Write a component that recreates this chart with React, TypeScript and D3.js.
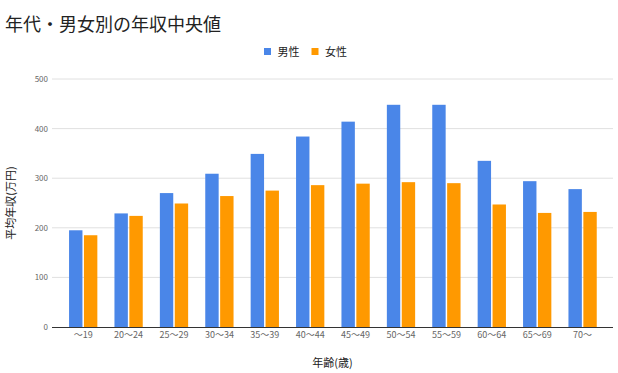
import React, { useEffect, useRef } from "react";
import * as d3 from "d3";

// Age brackets and median annual income (万円).
const ageGroups = ["〜19", "20〜24", "25〜29", "30〜34", "35〜39", "40〜44", "45〜49", "50〜54", "55〜59", "60〜64", "65〜69", "70〜"];
const maleValues = [195, 229, 270, 309, 349, 384, 414, 448, 448, 335, 294, 278];
const femaleValues = [185, 224, 249, 264, 275, 286, 289, 292, 290, 247, 230, 232];
const seriesNames = ["男性", "女性"];
const yTicks = [0, 100, 200, 300, 400, 500];

const colors = ["#4a86e8", "#ff9900"];
const font = "'Noto Sans CJK JP', 'Noto Sans', sans-serif";

const App = () => {
  const chartRef = useRef<SVGSVGElement>(null);

  useEffect(() => {
    const svgWidth = 618;
    const svgHeight = 373;
    const gridLeft = 52;
    const gridRight = 613;

    const svg = d3.select(chartRef.current)
      .attr("width", svgWidth)
      .attr("height", svgHeight);

    svg.selectAll("*").remove();

    const x = d3.scaleBand<string>()
      .domain(ageGroups)
      .range([60.5, 605.3])
      .paddingInner(0.377)
      .paddingOuter(0.1885);

    const xInner = d3.scaleBand<string>()
      .domain(seriesNames)
      .range([0, x.bandwidth()])
      .paddingInner(0.1);

    const y = d3.scaleLinear()
      .domain([0, 500])
      .range([327, 79]);

    // Title
    svg.append("text")
      .attr("x", 5)
      .attr("y", 31)
      .attr("font-family", font)
      .attr("font-size", 18)
      .attr("font-weight", 400)
      .attr("fill", "#222")
      .text("年代・男女別の年収中央値");

    // Legend
    const legend = svg.append("g").attr("transform", "translate(264, 0)");
    seriesNames.forEach((name, i) => {
      const g = legend.append("g").attr("transform", `translate(${i * 47.5}, 0)`);
      g.append("rect")
        .attr("x", 0)
        .attr("y", 48)
        .attr("width", 7)
        .attr("height", 7)
        .attr("fill", colors[i]);
      g.append("text")
        .attr("x", 13.5)
        .attr("y", 55.5)
        .attr("font-family", font)
        .attr("font-size", 11)
        .attr("fill", "#222")
        .text(name);
    });

    // Gridlines
    svg.append("g")
      .selectAll("line")
      .data(yTicks.filter(d => d > 0))
      .join("line")
      .attr("x1", gridLeft)
      .attr("x2", gridRight)
      .attr("y1", d => y(d))
      .attr("y2", d => y(d))
      .attr("stroke", "#e0e0e0")
      .attr("stroke-width", 1);

    // Y tick labels
    svg.append("g")
      .selectAll("text")
      .data(yTicks)
      .join("text")
      .attr("x", 48)
      .attr("y", d => y(d) + 3)
      .attr("text-anchor", "end")
      .attr("font-family", font)
      .attr("font-size", 8)
      .attr("fill", "#666")
      .text(d => d);

    // Bars
    const groups = svg.append("g")
      .selectAll("g")
      .data(ageGroups)
      .join("g")
      .attr("transform", d => `translate(${x(d)}, 0)`);

    groups.selectAll("rect")
      .data((d, i) => [
        { key: seriesNames[0], value: maleValues[i], color: colors[0] },
        { key: seriesNames[1], value: femaleValues[i], color: colors[1] },
      ])
      .join("rect")
      .attr("x", d => xInner(d.key) as number)
      .attr("y", d => y(d.value))
      .attr("width", xInner.bandwidth())
      .attr("height", d => y(0) - y(d.value))
      .attr("fill", d => d.color);

    // Baseline
    svg.append("line")
      .attr("x1", gridLeft)
      .attr("x2", gridRight)
      .attr("y1", y(0) + 0.5)
      .attr("y2", y(0) + 0.5)
      .attr("stroke", "#333")
      .attr("stroke-width", 1);

    // X tick labels
    svg.append("g")
      .selectAll("text")
      .data(ageGroups)
      .join("text")
      .attr("x", d => (x(d) as number) + x.bandwidth() / 2)
      .attr("y", 338)
      .attr("text-anchor", "middle")
      .attr("font-family", font)
      .attr("font-size", 9)
      .attr("fill", "#666")
      .text(d => d);

    // Axis titles
    svg.append("text")
      .attr("x", (gridLeft + gridRight) / 2)
      .attr("y", 367)
      .attr("text-anchor", "middle")
      .attr("font-family", font)
      .attr("font-size", 11)
      .attr("fill", "#222")
      .text("年齢(歳)");

    svg.append("text")
      .attr("transform", `translate(15, ${(y(0) + y(500)) / 2}) rotate(-90)`)
      .attr("text-anchor", "middle")
      .attr("font-family", font)
      .attr("font-size", 11)
      .attr("fill", "#222")
      .text("平均年収(万円)");
  }, []);

  return (
    <svg ref={chartRef} style={{ position: "absolute", left: 0, top: 0, background: "#fff" }}></svg>
  );
};

export default App;
